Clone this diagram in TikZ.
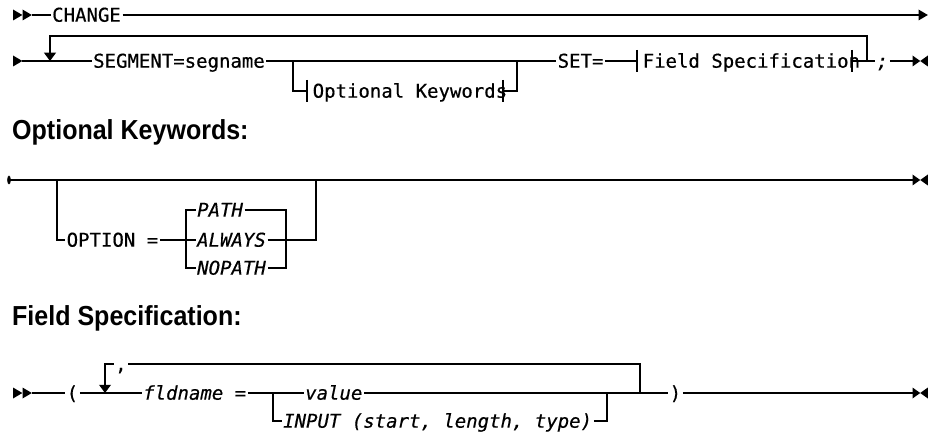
\documentclass[tikz,border=0pt]{standalone}
\usepackage{fontspec}
\setmonofont[FakeStretch=1.0,FakeBold=0.5]{DejaVu Sans Mono}
\newfontfamily\headfont[FakeStretch=0.91]{Liberation Sans}
\usepackage{tikz}
\usetikzlibrary{positioning}

\begin{document}
\begin{tikzpicture}[x=1pt,y=-1pt,
  rail/.style={line width=1.6pt},
  kw/.style={font=\ttfamily\fontsize{19}{22}\selectfont, anchor=west,
    inner xsep=1.5pt, inner ysep=0pt, text height=13.4pt, text depth=0pt},
  var/.style={kw, font=\ttfamily\itshape\fontsize{19}{22}\selectfont},
  heading/.style={font=\headfont\bfseries\fontsize{27.5}{32}\selectfont,
    anchor=base west, inner sep=0pt}]

%% Rail symbols are drawn as path pieces, all scaled by \RRHeadSize
%% y runs downwards here, so ++(0,-1) is one step up

\def\RRHeadSize{5.5}

\def\RRHead{%
		++(0,-\RRHeadSize) -- ++(1.7*\RRHeadSize,\RRHeadSize) -- ++(-1.7*\RRHeadSize,\RRHeadSize) -- cycle
}

\def\RRStop{%
		++(0,-\RRHeadSize) -- ++(1.4*\RRHeadSize,\RRHeadSize) -- ++(1.4*\RRHeadSize,-\RRHeadSize) %
		-- ++(0,2*\RRHeadSize) -- ++(-1.4*\RRHeadSize,-\RRHeadSize) -- ++(-1.4*\RRHeadSize,\RRHeadSize) -- cycle
}

\def\RRDown{%
		-- ++(-1.1*\RRHeadSize,-1.5*\RRHeadSize) -- ++(2.2*\RRHeadSize,0) -- cycle
}

\def\RRBar{%
		++(0,-11) -- ++(0,22)
}

\useasboundingbox (0,0) rectangle (928,435);

%% CHANGE statement

\fill (13,15) \RRHead ;
\fill (22.5,15) \RRHead ;
\coordinate (r1s) at (32,15);
\node[kw] (change) at (50.5,15) {CHANGE};
\coordinate (r1e) at (918.5,15);
\draw[rail] (r1s) -- (change) -- (r1e);
\fill (r1e) \RRHead ;

\fill (13,61) \RRHead ;
\coordinate (r2s) at (22,61);
\coordinate (loopL) at (50,61);
\coordinate (loopR) at (867,61);
\coordinate (optL) at (293,61);
\coordinate (optR) at (517,61);
\node[kw] (seg) at (91.5,61) {SEGMENT=segname};
\node[kw] (set) at (556,61) {SET=};
\node[kw, inner xsep=5.5pt] (fs) at (637,61) {Field Specification};
\coordinate (fsR) at (852,61);
\node[var] (semi) at (875,61) {;};
\coordinate (r2e) at (912.5,61);

\draw[rail] (r2s) -- (seg) -- (set) -- (fs);
\draw[rail] (fsR) -- (semi) -- (r2e);
\draw[rail] (fs.west) \RRBar ;
\draw[rail] (fsR) \RRBar ;
\draw[rail] (loopR) -- ++(0,-25) -| (loopL);
\fill (loopL) \RRDown ;
\fill (r2e) \RRStop ;

\node[kw, inner xsep=5.5pt] (ok) at (307,91) {Optional Keywords};
\coordinate (okR) at (503,91);
\draw[rail] (optL) |- (ok);
\draw[rail] (okR) -| (optR);
\draw[rail] (ok.west) \RRBar ;
\draw[rail] (okR) \RRBar ;

%% Optional Keywords

\node[heading] (hopt) at (12,140) {Optional Keywords:};

\coordinate (oks) at (9,180);
\coordinate (okbL) at (57,180);
\coordinate (okbR) at (316,180);
\coordinate (oke) at (912.5,180);
\fill (oks) ellipse [x radius=1.8pt, y radius=4.5pt];
\draw[rail] (oks) -- (oke);
\fill (oke) \RRStop ;

\node[kw] (option) at (65,240) {OPTION =};
\coordinate (chL) at (186,240);
\coordinate (chR) at (286,240);
\node[var] (path) at (195.5,210) {PATH};
\node[var] (always) at (195.5,240) {ALWAYS};
\node[var] (nopath) at (195.5,268) {NOPATH};

\draw[rail] (okbL) |- (option) -- (always);
\draw[rail] (path) -| (chL) |- (nopath);
\draw[rail] (path) -| (chR) |- (nopath);
\draw[rail] (always) -| (okbR);

%% Field Specification

\node[heading] (hfs) at (12,325) {Field Specification:};

\fill (13,393) \RRHead ;
\fill (22.5,393) \RRHead ;
\coordinate (fss) at (32,393);
\node[kw] (lpar) at (65,393) {(};
\coordinate (fsloopL) at (105,393);
\node[kw] (comma) at (113.5,364) {,};
\node[var] (fld) at (141.5,393) {fldname =};
\coordinate (valL) at (273,393);
\node[var] (value) at (303.5,393) {value};
\node[var] (input) at (281.5,421) {INPUT (start, length, type)};
\coordinate (valR) at (607,393);
\coordinate (fsloopR) at (640,393);
\node[kw] (rpar) at (668,393) {)};
\coordinate (fse) at (912.5,393);

\draw[rail] (fss) -- (lpar) -- (fld) -- (value) -- (rpar) -- (fse);
\draw[rail] (valL) |- (input) -| (valR);
\draw[rail] (fsloopR) |- (comma) -| (fsloopL);
\fill (fsloopL) \RRDown ;
\fill (fse) \RRStop ;

\end{tikzpicture}
\end{document}
